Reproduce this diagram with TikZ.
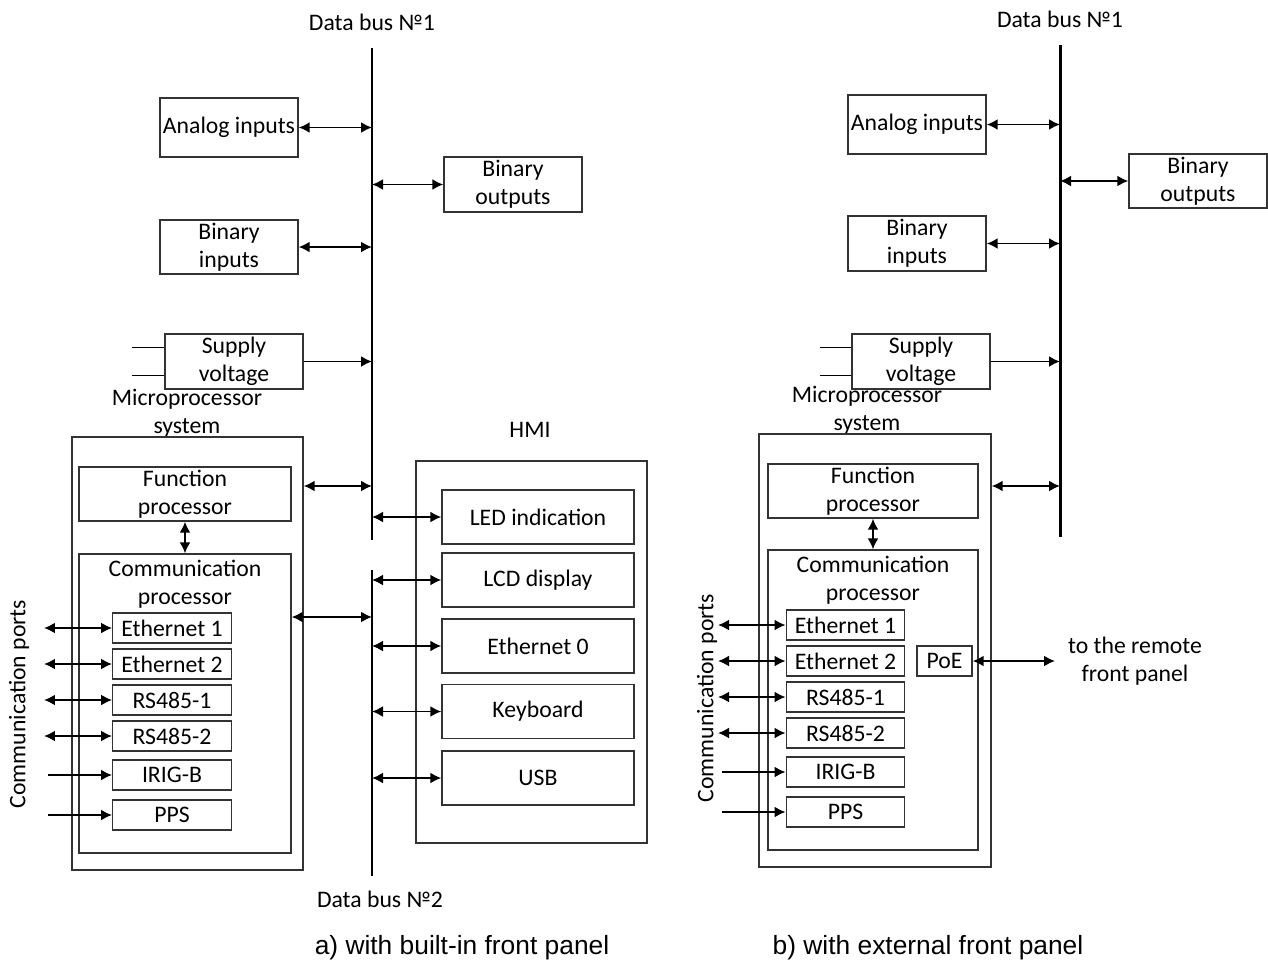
\documentclass[tikz,border=0pt]{standalone}
\usepackage{fontspec}
\setmainfont{Carlito}
\newfontfamily\capfont{Liberation Sans}
\usetikzlibrary{arrows.meta,positioning}

\begin{document}
\begin{tikzpicture}[
       x=0.02cm, y=-0.02cm,
       font=\fontsize{13.5}{16}\selectfont,
       block/.style={rectangle, draw=black!80, line width=0.8pt, minimum width=2.76cm, minimum height=1.1cm, align=center, inner sep=0pt},
       outer/.style={rectangle, draw=black!80, line width=0.8pt, inner sep=0pt},
       port/.style={rectangle, draw=black!80, line width=0.8pt, minimum width=2.37cm, minimum height=0.6cm, inner sep=0pt},
       hmiitem/.style={block, minimum width=3.84cm, minimum height=1.08cm},
       bus/.style={line width=1.7pt, black},
       arrow/.style={-{Latex[length=2.2mm,width=2.2mm]}, line width=1.1pt, black},
       dblarrow/.style={{Latex[length=2.2mm,width=2.2mm]}-{Latex[length=2.2mm,width=2.2mm]}, line width=1.1pt, black},
       lbl/.style={align=center, inner sep=0pt},
       caption/.style={inner sep=0pt, font=\capfont\fontsize{15}{18}\selectfont}
   ]
   \useasboundingbox (0,0) rectangle (1268,965);

   % a) built-in front panel
   \coordinate (b1top) at (372,48);
   \coordinate (b1bot) at (372,540);
   \coordinate (b2top) at (372,570);
   \coordinate (b2bot) at (372,876);
   \coordinate (sv1in) at (132,361.5);
   \coordinate (cpa) at (44,700);
   \coordinate (cpb) at (48,700);

   \node[lbl] (db1a) at (372,22) {Data bus №1};
   \node[lbl] (db2a) at (380,899) {Data bus №2};
   \node[block, minimum height=1.18cm] (ai1) at (229,127.5) {Analog inputs};
   \node[block] (bo1) at (513,184.5) {Binary\\outputs};
   \node[block, minimum height=1.08cm] (bi1) at (229,247) {Binary\\inputs};
   \node[block] (sv1) at (234,361.5) {Supply\\voltage};
   \node[lbl] (mpl1) at (187,413) {Microprocessor\\system};
   \node[outer, minimum width=4.62cm, minimum height=8.66cm] (mp1) at (187.5,653.5) {};
   \node[block, minimum width=4.24cm, minimum height=1.08cm] (fp1) at (185,494) {Function\\processor};
   \node[outer, minimum width=4.24cm, minimum height=5.98cm] (cp1) at (185,703.5) {};
   \node[lbl, anchor=north] (cpl1) at ([yshift=-1.3mm]cp1.north) {Communication\\processor};
   \node[port] (e11) at (172,628) {Ethernet 1};
   \node[port] (e12) at (172,664) {Ethernet 2};
   \node[port] (rs11) at (172,700) {RS485-1};
   \node[port] (rs12) at (172,736) {RS485-2};
   \node[port] (irig1) at (172,775) {IRIG-B};
   \node[port] (pps1) at (172,815) {PPS};
   \node[lbl, rotate=90] (cports1) at (19,704) {Communication ports};
   \node[lbl] (hmil) at (530,430) {HMI};
   \node[outer, minimum width=4.62cm, minimum height=7.64cm] (hmi) at (531.5,652) {};
   \node[hmiitem] (led) at (538,517) {LED indication};
   \node[hmiitem] (lcd) at (538,580) {LCD display};
   \node[hmiitem] (eth0) at (538,646) {Ethernet 0};
   \node[hmiitem] (kbd) at (538,711.5) {Keyboard};
   \node[hmiitem] (usb) at (538,778) {USB};

   \draw[bus] (b1top) -- (b1bot);
   \draw[bus] (b2top) -- (b2bot);
   \draw[dblarrow] (ai1.east) -- (ai1.east -| b1top);
   \draw[dblarrow] (bo1.west -| b1top) -- (bo1.west);
   \draw[dblarrow] (bi1.east) -- (bi1.east -| b1top);
   \draw[arrow] (sv1.east) -- (sv1.east -| b1top);
   \draw ([yshift=2.8mm]sv1.west) -- ([yshift=2.8mm]sv1in);
   \draw ([yshift=-2.8mm]sv1.west) -- ([yshift=-2.8mm]sv1in);
   \draw[dblarrow] ([yshift=1.6mm]fp1.east -| mp1.east) -- ([yshift=1.6mm]fp1.east -| b1top);
   \draw[dblarrow] (fp1.south) -- (cp1.north);
   \draw[dblarrow] ([yshift=2.2mm]cp1.east |- e11) -- ([yshift=2.2mm]b2top |- e11);
   \foreach \n in {led,lcd,eth0,kbd,usb}
      \draw[dblarrow] (\n.west -| b2top) -- (\n.west);
   \foreach \n in {e11,e12,rs11,rs12}
      \draw[dblarrow] (\n.west -| cpa) -- (\n.west);
   \foreach \n in {irig1,pps1}
      \draw[arrow] (\n.west -| cpb) -- (\n.west);

   % b) external front panel
   \coordinate (b3top) at (1060,45);
   \coordinate (b3bot) at (1060,537);
   \coordinate (sv2in) at (820,361.5);
   \coordinate (cpc) at (718,700);
   \coordinate (cpd) at (722,700);
   \coordinate (rfp) at (1055,661);

   \node[lbl] (db1b) at (1060,19) {Data bus №1};
   \node[block, minimum height=1.18cm] (ai2) at (917,124.5) {Analog inputs};
   \node[block, minimum height=1.08cm] (bo2) at (1198,181) {Binary\\outputs};
   \node[block] (bi2) at (917,243.5) {Binary\\inputs};
   \node[block] (sv2) at (921,361.5) {Supply\\voltage};
   \node[lbl] (mpl2) at (867,410) {Microprocessor\\system};
   \node[outer, minimum width=4.64cm, minimum height=8.66cm] (mp2) at (875,650.5) {};
   \node[block, minimum width=4.2cm, minimum height=1.08cm] (fp2) at (873,491) {Function\\processor};
   \node[outer, minimum width=4.2cm, minimum height=6cm] (cp2) at (873,700) {};
   \node[lbl, anchor=north] (cpl2) at ([yshift=-1.3mm]cp2.north) {Communication\\processor};
   \node[port] (e21) at (845.5,625) {Ethernet 1};
   \node[port] (e22) at (845.5,661) {Ethernet 2};
   \node[port] (rs21) at (845.5,697) {RS485-1};
   \node[port] (rs22) at (845.5,733) {RS485-2};
   \node[port] (irig2) at (845.5,772) {IRIG-B};
   \node[port] (pps2) at (845.5,812) {PPS};
   \node[port, minimum width=1.1cm] (poe) at (944.5,661) {PoE};
   \node[lbl, rotate=90] (cports2) at (707,698) {Communication ports};
   \node[lbl] (remote) at (1135,661) {to the remote\\front panel};

   \draw[bus] (b3top) -- (b3bot);
   \draw[dblarrow] (ai2.east) -- (ai2.east -| b3top);
   \draw[dblarrow] (bo2.west -| b3top) -- (bo2.west);
   \draw[dblarrow] (bi2.east) -- (bi2.east -| b3top);
   \draw[arrow] (sv2.east) -- (sv2.east -| b3top);
   \draw ([yshift=2.8mm]sv2.west) -- ([yshift=2.8mm]sv2in);
   \draw ([yshift=-2.8mm]sv2.west) -- ([yshift=-2.8mm]sv2in);
   \draw[dblarrow] ([yshift=1mm]fp2.east -| mp2.east) -- ([yshift=1mm]fp2.east -| b3top);
   \draw[dblarrow] (fp2.south) -- (cp2.north);
   \draw[dblarrow] (poe.east) -- (rfp);
   \foreach \n in {e21,e22,rs21,rs22}
      \draw[dblarrow] (\n.west -| cpc) -- (\n.west);
   \foreach \n in {irig2,pps2}
      \draw[arrow] (\n.west -| cpd) -- (\n.west);

   \node[caption] (capa) at (462,948) {a) with built-in front panel};
   \node[caption] (capb) at (928,948) {b) with external front panel};
   \end{tikzpicture}
\end{document}
